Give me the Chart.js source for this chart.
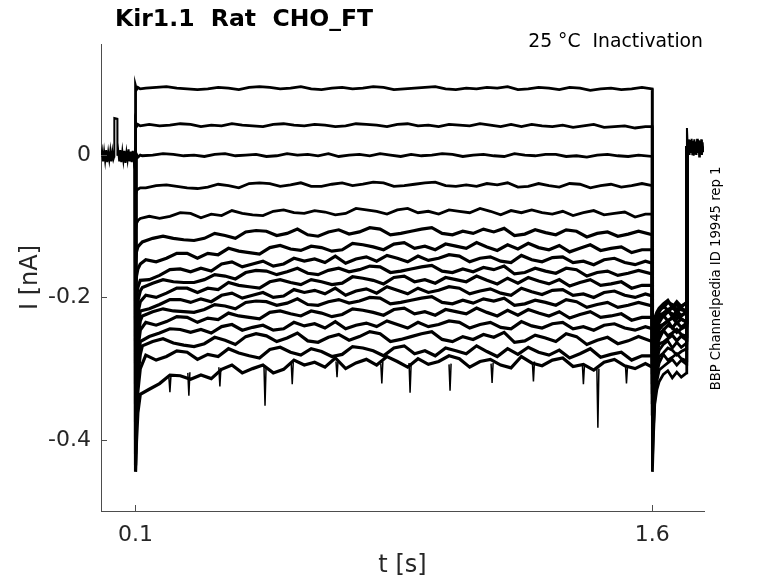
<!DOCTYPE html>
<html>
<head>
<meta charset="utf-8">
<style>
  html, body { margin: 0; padding: 0; background: #fff; }
</style>
<script src="https://cdn.jsdelivr.net/npm/chart.js@4.4.1/dist/chart.umd.min.js"></script>
</head>
<body>
<canvas id="kirChart" width="778" height="583"></canvas>
<script>
// holding level before the step (t in s, current in pA)
const preT = [0, 0.003, 0.006, 0.009, 0.012, 0.015, 0.018, 0.021, 0.024, 0.027, 0.03, 0.033, 0.036, 0.0385, 0.0387,
  0.0475, 0.0477, 0.05, 0.053, 0.056, 0.059, 0.062, 0.065, 0.068, 0.071, 0.074, 0.077, 0.08, 0.083, 0.086, 0.089,
  0.092, 0.095, 0.098, 0.1];
const prePA = [-2, 6, -9, 5, -8, 7, -10, 4, -7, 6, -9, 5, -6, -2, 52,
  51, -1, 6, -9, 7, -10, 5, -8, 6, -11, 4, -7, 8, -9, 5, -10,
  6, -8, 4, 0];

// sample times of the sweeps: onset, prepulse (three staggered grids), end, test pulse
const onsetT = [0.1, 0.1003, 0.103, 0.107, 0.114];
const stepTA = [0.13, 0.16, 0.19, 0.22, 0.25, 0.28, 0.31, 0.34, 0.37, 0.40,
  0.43, 0.46, 0.49, 0.52, 0.55, 0.58, 0.61, 0.64, 0.67, 0.70,
  0.73, 0.76, 0.79, 0.82, 0.85, 0.88, 0.91, 0.94, 0.97, 1.00,
  1.03, 1.06, 1.09, 1.12, 1.15, 1.18, 1.21, 1.24, 1.27, 1.30,
  1.33, 1.36, 1.39, 1.42, 1.45, 1.48, 1.51, 1.54, 1.57];
const stepTB = [0.14, 0.17, 0.20, 0.23, 0.26, 0.29, 0.32, 0.35, 0.38, 0.41,
  0.44, 0.47, 0.50, 0.53, 0.56, 0.59, 0.62, 0.65, 0.68, 0.71,
  0.74, 0.77, 0.80, 0.83, 0.86, 0.89, 0.92, 0.95, 0.98, 1.01,
  1.04, 1.07, 1.10, 1.13, 1.16, 1.19, 1.22, 1.25, 1.28, 1.31,
  1.34, 1.37, 1.40, 1.43, 1.46, 1.49, 1.52, 1.55, 1.58];
const stepTC = [0.12, 0.15, 0.18, 0.21, 0.24, 0.27, 0.30, 0.33, 0.36, 0.39,
  0.42, 0.45, 0.48, 0.51, 0.54, 0.57, 0.60, 0.63, 0.66, 0.69,
  0.72, 0.75, 0.78, 0.81, 0.84, 0.87, 0.90, 0.93, 0.96, 0.99,
  1.02, 1.05, 1.08, 1.11, 1.14, 1.17, 1.20, 1.23, 1.26, 1.29,
  1.32, 1.35, 1.38, 1.41, 1.44, 1.47, 1.50, 1.53, 1.56];
const endT = [1.5997];
const testT = [1.6003, 1.603, 1.607, 1.613, 1.62, 1.632, 1.645, 1.658, 1.671, 1.684, 1.6997, 1.7];

// sweeps, current in pA (onset 5, prepulse 49, end 1, test 12)
const trace01 = [0, 97, 92, 95, 93,
  94, 95, 96, 94, 93, 92, 93, 95, 94, 92,
  95, 96, 95, 93, 94, 96, 93, 92, 94, 95,
  93, 94, 96, 95, 92, 93, 94, 95, 96, 93,
  92, 94, 93, 95, 94, 96, 92, 93, 95, 94,
  92, 95, 94, 91, 93, 94, 92, 93, 95,
  93,
  -445, -398, -350, -330, -318, -308, -303, -313, -305, -312, -306, 12];
const trace02 = [0, 45, 40, 43, 41,
  43, 41, 42, 44, 43, 40, 42, 41, 44, 42,
  41, 40, 43, 44, 42, 41, 43, 42, 40, 41,
  44, 43, 42, 40, 43, 44, 41, 42, 40, 43,
  42, 41, 44, 42, 40, 43, 40, 43, 41, 40,
  42, 39, 41, 43, 39, 40, 41, 38, 40,
  40,
  -430, -385, -345, -318, -302, -297, -292, -287, -295, -288, -294, 12];
const trace03 = [0, -2, 1, -3, 0,
  -1, 0, 2, 1, -1, 0, -2, 1, 2, -1,
  0, 1, -2, -1, 2, 0, 1, -1, 2, -2,
  0, 1, -1, 2, 0, -2, 1, -1, 0, 2,
  1, -2, 0, 1, -1, -2, 2, 0, -1, 1,
  1, -2, -1, -3, 0, 1, -1, -2, 0,
  -2,
  -414, -370, -333, -307, -292, -280, -288, -284, -279, -286, -289, 12];
const trace04 = [0, -56, -50, -48, -46,
  -46, -43, -42, -44, -46, -47, -45, -41, -43, -46,
  -40, -39, -40, -44, -42, -39, -44, -44, -41, -39,
  -43, -41, -38, -39, -44, -43, -41, -39, -38, -43,
  -44, -42, -44, -40, -42, -39, -45, -44, -40, -43,
  -45, -40, -41, -46, -43, -41, -45, -43, -40,
  -43,
  -398, -356, -322, -298, -283, -278, -271, -274, -281, -276, -272, 12];
const trace05 = [0, -106, -96, -92, -89,
  -86, -89, -86, -81, -82, -88, -83, -85, -78, -82,
  -84, -85, -79, -77, -81, -82, -78, -80, -84, -82,
  -75, -77, -79, -83, -77, -75, -81, -79, -83, -77,
  -79, -81, -75, -79, -84, -78, -81, -77, -81, -83,
  -79, -85, -81, -78, -84, -82, -80, -87, -83,
  -83,
  -382, -342, -310, -289, -274, -266, -261, -271, -263, -270, -264, 12];
const trace06 = [0, -150, -136, -129, -125,
  -122, -117, -114, -117, -119, -120, -117, -110, -113, -117,
  -108, -106, -107, -113, -110, -104, -112, -114, -108, -105,
  -111, -108, -102, -104, -112, -110, -107, -104, -102, -110,
  -112, -107, -110, -104, -108, -103, -113, -111, -105, -109,
  -112, -105, -107, -115, -110, -108, -114, -111, -107,
  -112,
  -366, -328, -298, -278, -265, -263, -258, -253, -261, -254, -260, 12];
const trace07 = [0, -190, -170, -160, -153,
  -147, -150, -145, -138, -138, -145, -138, -140, -131, -135,
  -137, -139, -130, -127, -132, -134, -128, -130, -135, -133,
  -124, -126, -129, -133, -125, -123, -131, -128, -133, -125,
  -128, -131, -123, -129, -134, -126, -132, -124, -130, -133,
  -127, -136, -131, -126, -134, -131, -129, -137, -133,
  -133,
  -350, -314, -289, -268, -258, -246, -254, -250, -245, -252, -255, 12];
const trace08 = [0, -232, -202, -186, -176,
  -175, -169, -161, -160, -164, -159, -163, -153, -150, -157,
  -153, -149, -156, -153, -145, -149, -146, -151, -142, -152,
  -146, -143, -149, -141, -145, -150, -142, -148, -145, -140,
  -142, -150, -145, -143, -149, -151, -141, -147, -150, -144,
  -143, -151, -149, -154, -147, -145, -151, -154, -149,
  -152,
  -336, -302, -278, -262, -251, -246, -239, -242, -249, -244, -240, 12];
const trace09 = [0, -262, -226, -205, -191,
  -186, -180, -175, -178, -179, -179, -175, -168, -170, -174,
  -165, -162, -163, -168, -164, -159, -166, -168, -162, -159,
  -164, -161, -156, -157, -165, -163, -160, -157, -155, -163,
  -165, -160, -164, -158, -161, -156, -167, -165, -159, -163,
  -166, -159, -161, -170, -165, -163, -169, -166, -162,
  -167,
  -322, -292, -270, -254, -245, -238, -233, -243, -235, -242, -236, 12];
const trace10 = [0, -292, -250, -222, -206,
  -197, -200, -194, -187, -187, -193, -187, -189, -179, -183,
  -185, -187, -178, -175, -179, -182, -175, -178, -182, -180,
  -171, -173, -176, -181, -172, -170, -178, -175, -180, -172,
  -175, -178, -170, -176, -181, -173, -180, -172, -177, -181,
  -175, -184, -179, -175, -183, -181, -178, -187, -183,
  -183,
  -308, -282, -262, -249, -240, -238, -233, -228, -236, -230, -235, 12];
const trace11 = [0, -322, -270, -240, -219,
  -216, -210, -203, -203, -207, -202, -206, -197, -194, -201,
  -197, -193, -200, -198, -189, -193, -190, -195, -187, -197,
  -191, -188, -194, -185, -190, -195, -187, -193, -190, -185,
  -187, -195, -191, -188, -194, -197, -187, -192, -196, -190,
  -189, -197, -195, -200, -193, -191, -197, -200, -195,
  -198,
  -296, -273, -256, -243, -235, -225, -233, -229, -224, -231, -234, 12];
const trace12 = [0, -350, -290, -256, -233,
  -226, -220, -216, -219, -220, -221, -217, -210, -212, -216,
  -207, -205, -206, -211, -208, -202, -210, -211, -206, -203,
  -208, -205, -200, -201, -209, -207, -204, -201, -199, -207,
  -209, -204, -208, -202, -205, -201, -211, -209, -204, -207,
  -211, -203, -206, -214, -210, -207, -214, -211, -207,
  -212,
  -286, -265, -250, -239, -231, -227, -220, -223, -230, -225, -221, 12];
const trace13 = [0, -375, -310, -272, -246,
  -235, -239, -234, -227, -228, -235, -229, -231, -222, -226,
  -228, -230, -221, -219, -223, -226, -219, -222, -227, -224,
  -216, -218, -221, -225, -217, -215, -223, -220, -225, -217,
  -220, -223, -215, -221, -226, -218, -225, -217, -222, -226,
  -220, -229, -224, -220, -228, -226, -223, -232, -228,
  -228,
  -278, -259, -244, -234, -228, -222, -217, -227, -219, -226, -220, 12];
const trace14 = [0, -400, -330, -290, -262,
  -255, -250, -244, -245, -249, -245, -250, -241, -238, -246,
  -242, -239, -246, -244, -235, -240, -237, -243, -234, -244,
  -239, -236, -241, -233, -238, -243, -235, -241, -238, -233,
  -235, -243, -238, -235, -242, -244, -234, -240, -243, -237,
  -235, -244, -241, -246, -239, -237, -243, -246, -241,
  -244,
  -270, -253, -239, -230, -224, -223, -218, -213, -221, -215, -220, 12];
const trace15 = [0, -420, -352, -310, -280,
  -268, -262, -258, -264, -267, -269, -265, -256, -260, -266,
  -255, -251, -254, -262, -257, -250, -261, -263, -256, -252,
  -260, -255, -248, -251, -262, -259, -255, -251, -248, -259,
  -262, -255, -259, -252, -256, -249, -263, -261, -253, -257,
  -262, -251, -255, -266, -260, -256, -265, -261, -255,
  -262,
  -264, -247, -236, -227, -220, -211, -219, -215, -210, -217, -220, 12];
const trace16 = [0, -436, -372, -332, -300,
  -281, -288, -283, -275, -277, -287, -280, -283, -272, -278,
  -282, -285, -273, -270, -277, -281, -272, -276, -283, -280,
  -269, -271, -275, -282, -271, -268, -279, -275, -282, -271,
  -275, -279, -268, -276, -283, -272, -280, -270, -277, -281,
  -274, -285, -279, -272, -284, -280, -277, -288, -282,
  -282,
  -260, -244, -232, -224, -217, -214, -207, -210, -217, -212, -208, 12];
const trace17 = [0, -445, -402, -362, -336,
  -329, -321, -309, -310, -315, -309, -314, -301, -295, -306,
  -300, -295, -306, -301, -288, -295, -291, -298, -285, -300,
  -292, -287, -295, -283, -290, -298, -286, -294, -290, -282,
  -286, -298, -290, -287, -295, -299, -283, -292, -296, -288,
  -285, -297, -294, -302, -291, -287, -296, -300, -293,
  -298,
  -256, -240, -229, -221, -215, -209, -204, -214, -206, -213, -207, 12];

// sharp downward events on the deepest sweep (null = gap)
const spikeT = [0.197, 0.2, 0.203, 0.22, 0.252, 0.255, 0.258, 0.3, 0.342, 0.345, 0.348, 0.4,
  0.473, 0.476, 0.479, 0.5, 0.552, 0.555, 0.558, 0.6, 0.682, 0.685, 0.688, 0.75,
  0.812, 0.815, 0.818, 0.86, 0.894, 0.897, 0.9, 0.95, 1.01, 1.013, 1.016, 1.1,
  1.132, 1.135, 1.138, 1.2, 1.252, 1.255, 1.258, 1.3, 1.397, 1.4, 1.403, 1.42,
  1.439, 1.442, 1.445, 1.5, 1.522, 1.525, 1.528];
const spikePA = [-312, -333, -310, null, -306, -338, -305, null, -298, -325, -299, null,
  -297, -352, -298, null, -292, -322, -291, null, -290, -312, -288, null,
  -293, -321, -290, null, -292, -334, -294, null, -294, -331, -293, null,
  -293, -320, -292, null, -292, -318, -290, null, -294, -322, -296, null,
  -298, -383, -300, null, -295, -321, -297];

// back to holding after the test pulse
const holdT = [1.7, 1.7005, 1.702, 1.704, 1.706, 1.708, 1.71, 1.712, 1.714, 1.716, 1.718, 1.72, 1.722, 1.724,
  1.726, 1.728, 1.73, 1.732, 1.734, 1.736, 1.738, 1.74, 1.742, 1.744, 1.746, 1.748, 1.75];
const holdPA = [12, 38, 20, 2, 22, 0, 21, 3, 23, 1, 20, -1, 22, 2,
  19, 0, 23, 3, 21, -2, 20, 1, 22, 0, 18, 4, 12];

const xTicks = [0.1, 1.6];
const yTicks = [-0.4, -0.2, 0];

const traces = [trace01, trace02, trace03, trace04, trace05, trace06, trace07, trace08, trace09,
  trace10, trace11, trace12, trace13, trace14, trace15, trace16, trace17];
const stepGrids = [stepTA, stepTB, stepTC];

const FONT = 'DejaVu Sans';

function toPoints(ts, pa) {
  return ts.map((t, i) => ({ x: t, y: pa[i] === null ? null : pa[i] / 1000 }));
}

function sweep(points, width) {
  return {
    data: points,
    borderColor: '#000000',
    borderWidth: width,
    pointRadius: 0,
    tension: 0,
    fill: false,
    spanGaps: false
  };
}

const datasets = [sweep(toPoints(preT, prePA), 2)]
  .concat(traces.map((arr, k) => {
    const ts = onsetT.concat(stepGrids[k % 3], endT, testT);
    return sweep(toPoints(ts, arr), k < 5 ? 2.8 : 3.2);
  }))
  .concat([sweep(toPoints(spikeT, spikePA), 1.5), sweep(toPoints(holdT, holdPA), 2)]);

// inward tick marks and the free texts round the axes
const decorations = {
  id: 'decorations',
  afterDraw(chart) {
    const { ctx, chartArea: a, scales: { x, y } } = chart;
    ctx.save();
    ctx.strokeStyle = '#4d4d4d';
    ctx.lineWidth = 1;
    ctx.beginPath();
    x.ticks.forEach(t => {
      const px = Math.round(x.getPixelForValue(t.value)) + 0.5;
      ctx.moveTo(px, a.bottom);
      ctx.lineTo(px, a.bottom - 6);
    });
    y.ticks.forEach(t => {
      const py = Math.round(y.getPixelForValue(t.value)) + 0.5;
      ctx.moveTo(a.left, py);
      ctx.lineTo(a.left + 6, py);
    });
    ctx.stroke();

    ctx.fillStyle = '#000000';
    ctx.textBaseline = 'alphabetic';
    ctx.font = 'bold 23.5px "' + FONT + '"';
    ctx.textAlign = 'left';
    ctx.fillText('Kir1.1  Rat  CHO_FT', a.left + 14, 26);

    ctx.font = '18.8px "' + FONT + '"';
    ctx.textAlign = 'right';
    ctx.fillText('25 °C  Inactivation', a.right - 1, 47);

    ctx.fillStyle = '#262626';
    ctx.font = '24px "' + FONT + '"';
    ctx.textAlign = 'center';
    ctx.fillText('t [s]', (a.left + a.right) / 2, 572);

    ctx.save();
    ctx.translate(37, (a.top + a.bottom) / 2);
    ctx.rotate(-Math.PI / 2);
    ctx.fillText('I [nA]', 0, 0);
    ctx.restore();

    ctx.fillStyle = '#000000';
    ctx.save();
    ctx.translate(720, 278.5);
    ctx.rotate(-Math.PI / 2);
    ctx.font = '13.2px "' + FONT + '"';
    ctx.textAlign = 'center';
    ctx.fillText('BBP Channelpedia ID 19945 rep 1', 0, 0);
    ctx.restore();

    ctx.restore();
  }
};

new Chart(document.getElementById('kirChart').getContext('2d'), {
  type: 'line',
  data: { datasets: datasets },
  options: {
    responsive: false,
    animation: false,
    events: [],
    layout: { padding: { left: 0, right: 74, top: 44, bottom: 0 } },
    plugins: {
      legend: { display: false },
      tooltip: { enabled: false }
    },
    scales: {
      x: {
        type: 'linear',
        min: 0,
        max: 1.75,
        grid: { display: false, drawTicks: false },
        border: { display: true, color: '#4d4d4d', width: 1 },
        afterBuildTicks: scale => { scale.ticks = xTicks.map(v => ({ value: v })); },
        afterFit: scale => { scale.height = 72; },
        ticks: {
          padding: 11,
          color: '#262626',
          font: { family: FONT, size: 22 },
          maxRotation: 0,
          callback: v => v.toFixed(1)
        }
      },
      y: {
        type: 'linear',
        min: -0.5,
        max: 0.156,
        grid: { display: false, drawTicks: false },
        border: { display: true, color: '#4d4d4d', width: 1 },
        afterBuildTicks: scale => { scale.ticks = yTicks.map(v => ({ value: v })); },
        afterFit: scale => { scale.width = 101; },
        ticks: {
          padding: 10,
          color: '#262626',
          font: { family: FONT, size: 22 },
          callback: v => (v === 0 ? '0' : v.toFixed(1))
        }
      }
    }
  },
  plugins: [decorations]
});
</script>
</body>
</html>
